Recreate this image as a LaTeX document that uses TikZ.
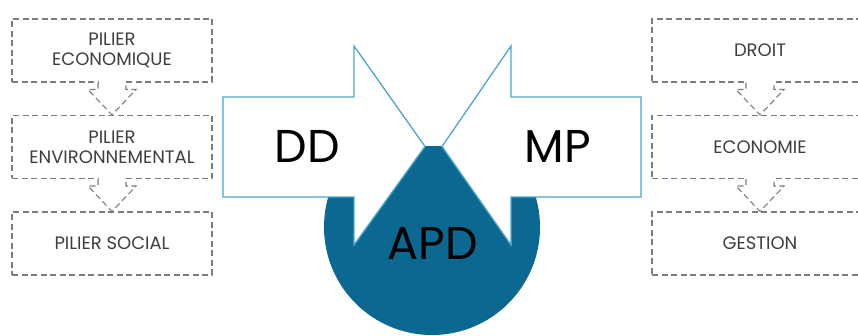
\documentclass[tikz,border=0pt]{standalone}
\usepackage{fontspec}
\setsansfont{Poppins}
\usetikzlibrary{calc}

\definecolor{dropblue}{RGB}{11,104,145}
\definecolor{edgeblue}{RGB}{78,165,204}
\definecolor{boxgray}{RGB}{125,125,125}
\definecolor{inkgray}{RGB}{62,62,62}

% dashed block arrow linking two stacked boxes
\newcommand\stackarrow[2]{%
  \fill[white] ($(#1.south)+(-13.4,-1.5)$) rectangle ($(#1.south)+(13.4,1.5)$);
  \draw[linkarrow] ($(#1.south)+(-14,0)$) -- ++(0,7) -- ++(-10,0) -- (#2.north)
    -- ($(#1.south)+(24,7)$) -- ++(-10,0) -- ++(0,-7);
}

\begin{document}
\begin{tikzpicture}[x=1pt,y=-1pt,
  pillar/.style={draw=boxgray, dash pattern=on 6pt off 3.5pt, line width=1.1pt,
    minimum height=63pt, inner sep=0pt, text=inkgray, align=center,
    font=\sffamily\fontsize{18}{20}\selectfont},
  linkarrow/.style={draw=boxgray, dash pattern=on 6pt off 3.5pt, line width=1.1pt, line join=miter},
  bigarrow/.style={draw=edgeblue, fill=white, line width=1.3pt, line join=miter},
  bigtext/.style={text=black, font=\sffamily\fontsize{46}{46}\selectfont, inner sep=0pt}]

\useasboundingbox (0,0) rectangle (858,336);
\clip (0,0) rectangle (858,336);

% left column
\node[pillar, minimum width=200pt] (p1) at (112,50.5) {PILIER\\ECONOMIQUE};
\node[pillar, minimum width=200pt] (p2) at (112,147) {PILIER\\ENVIRONNEMENTAL};
\node[pillar, minimum width=200pt] (p3) at (112,243.5) {PILIER SOCIAL};
\stackarrow{p1}{p2}
\stackarrow{p2}{p3}

% right column
\node[pillar, minimum width=216pt] (r1) at (760,50.5) {DROIT};
\node[pillar, minimum width=216pt] (r2) at (760,147) {ECONOMIE};
\node[pillar, minimum width=216pt] (r3) at (760,243.5) {GESTION};
\stackarrow{r1}{r2}
\stackarrow{r2}{r3}

% drop, flat-topped where the two arrow tips meet it
\begin{scope}
  \clip (0,146.5) rectangle (858,336);
  \fill[dropblue] (432,227) circle[radius=108];
\end{scope}
\fill[dropblue] (425,146.5) -- (442,146.5) -- (511,245) -- (354,245) -- cycle;

% converging arrows
\draw[bigarrow] (223,97) -- (354,97) -- (354,46) -- (425,146.5) -- (354,245)
  -- (354,197) -- (223,197) -- cycle;
\draw[bigarrow] (641,97) -- (511,97) -- (511,46) -- (442,146.5) -- (511,245)
  -- (511,197) -- (641,197) -- cycle;

\node[bigtext] (dd) at (307,146) {DD};
\node[bigtext] (mp) at (558,146) {MP};
\node[bigtext] (apd) at (433,243) {APD};
\end{tikzpicture}
\end{document}
